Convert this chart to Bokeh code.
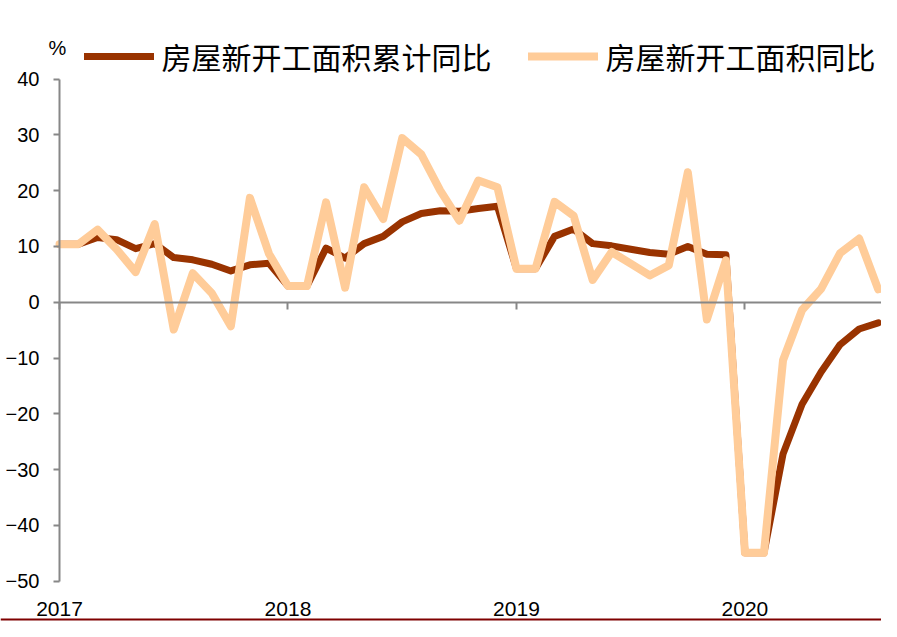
from bokeh.plotting import figure
from bokeh.models import (Range1d, FixedTicker, LinearAxis, Legend, LegendItem,
                          ColumnDataSource, Span)
from bokeh.core.properties import value
from bokeh.embed import file_html
from bokeh.resources import INLINE

# ---------------- data ----------------
months = [f"{y}-{m:02d}" for y in (2017, 2018, 2019, 2020) for m in range(1, 13)][:44]

# 房屋新开工面积累计同比 (%)
cum_yoy = [10.4, 10.4, 11.6, 11.2, 9.6, 10.5, 8.0, 7.6, 6.8, 5.6, 6.7, 7.0,
           2.9, 2.9, 9.7, 7.9, 10.5, 11.8, 14.4, 15.9, 16.4, 16.3, 16.8, 17.2,
           6.0, 6.0, 11.8, 13.1, 10.5, 10.1, 9.5, 8.9, 8.6, 10.0, 8.6, 8.5,
           -44.9, -44.9, -27.2, -18.3, -12.5, -7.6, -4.8, -3.7]

# 房屋新开工面积同比 (%)
mon_yoy = [10.4, 10.4, 13.0, 9.5, 5.4, 14.0, -4.9, 5.2, 1.6, -4.3, 18.7, 8.7,
           2.9, 2.9, 17.9, 2.6, 20.6, 14.9, 29.4, 26.5, 20.0, 14.6, 21.8, 20.6,
           6.0, 6.0, 18.0, 15.5, 4.0, 9.0, 6.9, 4.8, 6.6, 23.3, -3.1, 7.5,
           -44.9, -44.9, -10.4, -1.4, 2.4, 8.8, 11.4, 2.3]

year_labels = ["2017", "2018", "2019", "2020"]
y_ticks = [-50, -40, -30, -20, -10, 0, 10, 20, 30, 40]
series_names = ["房屋新开工面积累计同比", "房屋新开工面积同比"]
unit_label = "%"

x_idx = list(range(len(months)))
year_pos = [months.index(f"{y}-01") for y in year_labels]

# ---------------- geometry ----------------
W, H = 881, 621
PX_MONTH = 19.04
PX_UNIT = 5.58
X0_PX = 59.0      # canvas px of first month
Y40_PX = 78.5     # canvas px (from top) of value 40

x_start = -X0_PX / PX_MONTH
x_end = (W - X0_PX) / PX_MONTH
y_end = 40 + Y40_PX / PX_UNIT
y_start = y_end - H / PX_UNIT


def y_at(px_from_top):
    return y_end - px_from_top / PX_UNIT


GRAY = "#878787"
DARK = "#993300"
LIGHT = "#FFCC99"
NUM_FONT = "Liberation Sans"
CJK_FONT = "Noto Sans CJK SC"

p = figure(width=W, height=H,
           x_range=Range1d(x_start, x_end), y_range=Range1d(y_start, y_end),
           output_backend="svg", toolbar_location=None, title=None,
           x_axis_location=None, y_axis_location=None,
           min_border_left=0, min_border_right=0,
           min_border_top=0, min_border_bottom=0)
p.outline_line_color = None
p.background_fill_color = "white"
p.border_fill_color = "white"
for g in p.grid:
    g.visible = False

# y axis at the first month
yaxis = LinearAxis(fixed_location=0, bounds=(-50, 40),
                   ticker=FixedTicker(ticks=y_ticks, minor_ticks=[]))
yaxis.axis_line_color = GRAY
yaxis.axis_line_width = 2
yaxis.major_tick_line_color = GRAY
yaxis.major_tick_line_width = 2
yaxis.major_tick_in = 0
yaxis.major_tick_out = 6
yaxis.minor_tick_line_color = None
yaxis.major_label_standoff = 14
yaxis.major_label_text_font = NUM_FONT
yaxis.major_label_text_font_size = "20px"
yaxis.major_label_text_color = "black"
p.add_layout(yaxis, "left")

# x axis on the zero line (ticks only)
xaxis = LinearAxis(fixed_location=0, bounds=(0, x_end),
                   ticker=FixedTicker(ticks=year_pos, minor_ticks=[]))
xaxis.axis_line_color = GRAY
xaxis.axis_line_width = 2
xaxis.major_tick_line_color = GRAY
xaxis.major_tick_line_width = 2
xaxis.major_tick_in = 0
xaxis.major_tick_out = 7
xaxis.minor_tick_line_color = None
xaxis.major_label_overrides = {pos: "" for pos in year_pos}
xaxis.major_label_text_font_size = "1px"
p.add_layout(xaxis, "below")

# year labels along the bottom
yl_src = ColumnDataSource(dict(x=year_pos, y=[y_at(608.5)] * len(year_pos), t=year_labels))
p.text(x="x", y="y", text="t", source=yl_src, text_align="center",
       text_baseline="middle", text_font=value(NUM_FONT),
       text_font_size="21px", text_color="black")

# unit label
p.text(x=[-2.0 / PX_MONTH], y=[y_at(47)], text=[unit_label], text_align="center",
       text_baseline="middle", text_font=value(NUM_FONT),
       text_font_size="20px", text_color="black")

# series
r_dark = p.line(x_idx, cum_yoy, line_color=DARK, line_width=7,
                line_join="round", line_cap="round")
r_light = p.line(x_idx, mon_yoy, line_color=LIGHT, line_width=8,
                 line_join="round", line_cap="round")

# bottom rule
p.add_layout(Span(location=y_at(619), dimension="width",
                  line_color="#7F0000", line_width=2))

legend = Legend(items=[LegendItem(label=series_names[0], renderers=[r_dark]),
                       LegendItem(label=series_names[1], renderers=[r_light])],
                location=(83.5, H - 57.7 - 20), orientation="horizontal",
                glyph_width=70, glyph_height=40, label_height=40,
                label_standoff=8, spacing=36, padding=0, margin=0,
                label_text_font=CJK_FONT, label_text_font_size="30px",
                label_text_color="black",
                border_line_alpha=0, background_fill_alpha=0)
p.add_layout(legend)

open("out.html", "w").write(file_html(p, INLINE))
